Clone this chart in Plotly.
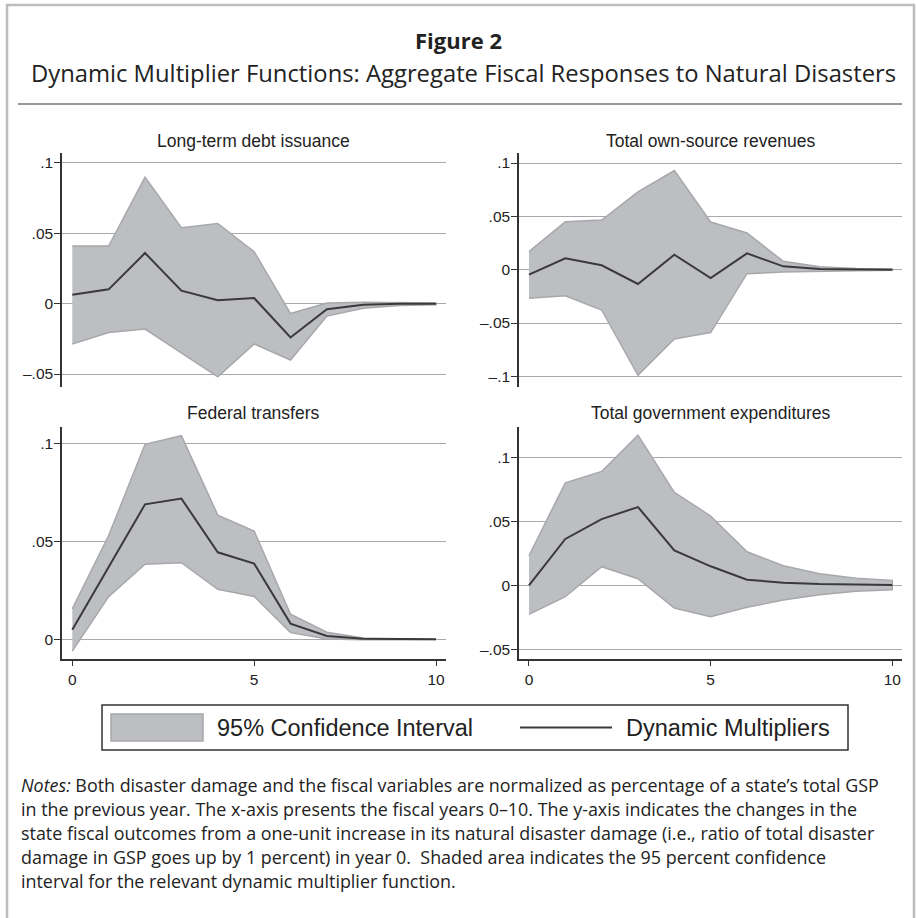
import plotly.graph_objects as go

# ---------------- data ----------------
years = list(range(11))

panel_titles = ["Long-term debt issuance", "Total own-source revenues",
                "Federal transfers", "Total government expenditures"]

debt_mean = [0.0064, 0.0102, 0.036, 0.0093, 0.0024, 0.004, -0.024, -0.004, -0.0007, 0.0, 0.0]
debt_upper = [0.041, 0.041, 0.090, 0.054, 0.057, 0.037, -0.007, 0.0005, 0.001, 0.0007, 0.0005]
debt_lower = [-0.0286, -0.0205, -0.018, -0.035, -0.052, -0.0286, -0.040, -0.0088, -0.0033, -0.0012, -0.0007]

rev_mean = [-0.0047, 0.0106, 0.0041, -0.0134, 0.014, -0.0078, 0.0153, 0.0031, 0.0006, 0.0, 0.0]
rev_upper = [0.0169, 0.045, 0.0466, 0.073, 0.093, 0.0447, 0.0344, 0.0078, 0.0028, 0.0012, 0.0006]
rev_lower = [-0.0269, -0.0244, -0.0378, -0.099, -0.065, -0.059, -0.0038, -0.0022, -0.0016, -0.0009, -0.0006]

fed_mean = [0.0049, 0.037, 0.0689, 0.0718, 0.0444, 0.0386, 0.008, 0.0017, 0.0003, 0.0002, 0.0]
fed_upper = [0.0155, 0.053, 0.0995, 0.1039, 0.0634, 0.0553, 0.0128, 0.0036, 0.0007, 0.0003, 0.0002]
fed_lower = [-0.006, 0.0218, 0.0383, 0.0391, 0.0255, 0.0219, 0.0034, 0.0002, -0.0002, -0.0002, -0.0001]

exp_mean = [0.0, 0.0363, 0.0519, 0.0613, 0.0274, 0.0149, 0.0044, 0.0021, 0.001, 0.0005, 0.0003]
exp_upper = [0.0232, 0.0803, 0.0892, 0.1176, 0.0728, 0.0543, 0.0263, 0.0154, 0.0091, 0.0055, 0.0039]
exp_lower = [-0.0227, -0.0089, 0.0146, 0.0052, -0.0177, -0.0245, -0.0172, -0.0115, -0.0073, -0.0047, -0.0034]

ytick_tl = [-0.05, 0, 0.05, 0.1]
ytick_tr = [-0.1, -0.05, 0, 0.05, 0.1]
ytick_bl = [0, 0.05, 0.1]
ytick_br = [-0.05, 0, 0.05, 0.1]
ytick_text = {0.1: ".1", 0.05: ".05", 0: "0", -0.05: "\u2013.05", -0.1: "\u2013.1"}
xtick_vals = [0, 5, 10]
xtick_text = ["0", "5", "10"]

legend_labels = ["95% Confidence Interval", "Dynamic Multipliers"]
fig_title = "Figure 2"
fig_subtitle = "Dynamic Multiplier Functions: Aggregate Fiscal Responses to Natural Disasters"
notes_lines = [
    "<i>Notes:</i> Both disaster damage and the fiscal variables are normalized as percentage of a state\u2019s total GSP",
    "in the previous year. The x-axis presents the fiscal years 0\u201310. The y-axis indicates the changes in the",
    "state fiscal outcomes from a one-unit increase in its natural disaster damage (i.e., ratio of total disaster",
    "damage in GSP goes up by 1 percent) in year 0.  Shaded area indicates the 95 percent confidence",
    "interval for the relevant dynamic multiplier function.",
]

# ---------------- styling ----------------
W, H = 916, 918
BAND_FILL = "#bdbec1"
BAND_EDGE = "#a7a8ab"
MEAN_COL = "#3a3a3a"
GRID_COL = "#a9a9a9"
AXIS_COL = "#333333"
TXT = "#222222"
ARIAL = "Liberation Sans, Arial, sans-serif"
MYRIAD = "Open Sans, Noto Sans, sans-serif"


def px(x):
    return x / W


def py(y):
    return 1 - y / H


panels = [
    dict(mean=debt_mean, up=debt_upper, lo=debt_lower, yt=ytick_tl,
         xd=(62, 446), yd=(153, 387), xr=(-0.283, 10.275), yr=(-0.0592, 0.1071), bottom=False),
    dict(mean=rev_mean, up=rev_upper, lo=rev_lower, yt=ytick_tr,
         xd=(519, 902), yd=(153, 387), xr=(-0.275, 10.267), yr=(-0.1100, 0.1094), bottom=False),
    dict(mean=fed_mean, up=fed_upper, lo=fed_lower, yt=ytick_bl,
         xd=(62, 446), yd=(426.7, 659.3), xr=(-0.283, 10.275), yr=(-0.0102, 0.1085), bottom=True),
    dict(mean=exp_mean, up=exp_upper, lo=exp_lower, yt=ytick_br,
         xd=(519, 902), yd=(426.7, 659.3), xr=(-0.275, 10.267), yr=(-0.0579, 0.1242), bottom=True),
]

fig = go.Figure()
layout = dict(
    width=W, height=H, margin=dict(l=0, r=0, t=0, b=0),
    paper_bgcolor="white", plot_bgcolor="white", showlegend=False,
    font=dict(family=ARIAL, color=TXT),
)
annotations = []
shapes = []

for i, p in enumerate(panels):
    n = "" if i == 0 else str(i + 1)
    xa, ya = "x" + n, "y" + n
    # confidence band as closed polygon
    fig.add_trace(go.Scatter(
        x=years + years[::-1], y=p["up"] + p["lo"][::-1],
        fill="toself", fillcolor=BAND_FILL, mode="lines",
        line=dict(color=BAND_EDGE, width=1.5), xaxis=xa, yaxis=ya, hoverinfo="skip"))
    fig.add_trace(go.Scatter(
        x=years, y=p["mean"], mode="lines",
        line=dict(color=MEAN_COL, width=2), xaxis=xa, yaxis=ya))
    layout["xaxis" + n] = dict(
        domain=[px(p["xd"][0]), px(p["xd"][1])], range=list(p["xr"]),
        anchor=ya, showgrid=False, zeroline=False,
        showline=p["bottom"], linecolor=AXIS_COL, linewidth=1.5,
        ticks="outside" if p["bottom"] else "", ticklen=5, tickwidth=1.3, tickcolor=AXIS_COL,
        tickvals=xtick_vals, ticktext=xtick_text, showticklabels=p["bottom"],
        tickfont=dict(size=15.5, family=ARIAL, color=TXT), fixedrange=True)
    layout["yaxis" + n] = dict(
        domain=[py(p["yd"][1]), py(p["yd"][0])], range=list(p["yr"]),
        anchor=xa, showgrid=True, gridcolor=GRID_COL, gridwidth=1.4, zeroline=False,
        showline=True, linecolor=AXIS_COL, linewidth=1.5,
        ticks="outside", ticklen=6, tickwidth=1.3, tickcolor=AXIS_COL,
        tickvals=p["yt"], ticktext=[ytick_text[v] for v in p["yt"]],
        ticklabelstandoff=-2,
        tickfont=dict(size=15.5, family=ARIAL, color=TXT), fixedrange=True)
    cx = (p["xd"][0] + p["xd"][1]) / 2
    ty = 141 if not p["bottom"] else 413
    annotations.append(dict(
        text=panel_titles[i], x=px(cx), y=py(ty), xref="paper", yref="paper",
        xanchor="center", yanchor="middle", showarrow=False,
        font=dict(size=17.5, family=ARIAL, color=TXT)))

# outer frame and title rule
shapes.append(dict(type="rect", xref="paper", yref="paper",
                   x0=px(7), x1=px(914), y0=py(940), y1=py(5),
                   line=dict(color="#bdbdbd", width=2.5), fillcolor="rgba(0,0,0,0)", layer="above"))
shapes.append(dict(type="line", xref="paper", yref="paper",
                   x0=px(18), x1=px(902), y0=py(104), y1=py(104),
                   line=dict(color="#333333", width=1.2)))

# titles
annotations.append(dict(text="<b>" + fig_title + "</b>", x=px(458), y=py(40), xref="paper", yref="paper",
                        xanchor="center", yanchor="middle", showarrow=False,
                        font=dict(size=22, family=MYRIAD, color=TXT)))
annotations.append(dict(text=fig_subtitle, x=px(464), y=py(73), xref="paper", yref="paper",
                        xanchor="center", yanchor="middle", showarrow=False,
                        font=dict(size=23.8, family=MYRIAD, color=TXT)))

# legend (drawn manually)
shapes.append(dict(type="rect", xref="paper", yref="paper",
                   x0=px(102), x1=px(848), y0=py(750), y1=py(705),
                   line=dict(color="#333333", width=1.5), fillcolor="white"))
shapes.append(dict(type="rect", xref="paper", yref="paper",
                   x0=px(111), x1=px(203), y0=py(741), y1=py(714),
                   line=dict(color=BAND_EDGE, width=1.5), fillcolor=BAND_FILL))
shapes.append(dict(type="line", xref="paper", yref="paper",
                   x0=px(520), x1=px(612), y0=py(727.5), y1=py(727.5),
                   line=dict(color=MEAN_COL, width=2)))
annotations.append(dict(text=legend_labels[0], x=px(215), y=py(728), xref="paper", yref="paper",
                        xanchor="left", yanchor="middle", showarrow=False,
                        font=dict(size=23.5, family=ARIAL, color=TXT)))
annotations.append(dict(text=legend_labels[1], x=px(624), y=py(728), xref="paper", yref="paper",
                        xanchor="left", yanchor="middle", showarrow=False,
                        font=dict(size=23.5, family=ARIAL, color=TXT)))

# notes
for k, line in enumerate(notes_lines):
    annotations.append(dict(text=line, x=px(19), y=py(785 + 24 * k), xref="paper", yref="paper",
                            xanchor="left", yanchor="middle", showarrow=False,
                            font=dict(size=17.9, family=MYRIAD, color=TXT)))

layout["annotations"] = annotations
layout["shapes"] = shapes
fig.update_layout(**layout)
fig.write_html("out.html")
